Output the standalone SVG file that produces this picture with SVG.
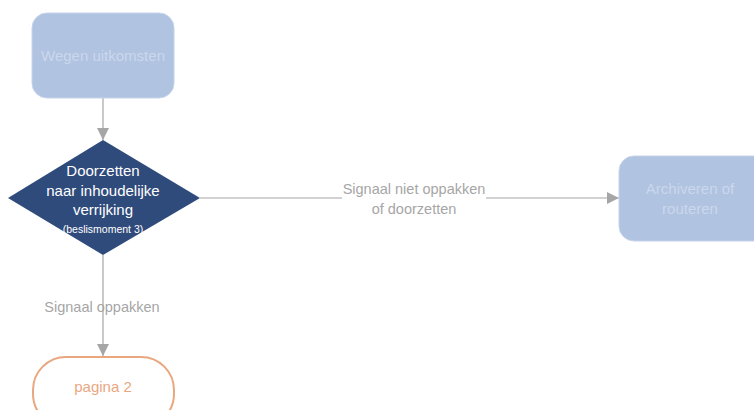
<svg xmlns="http://www.w3.org/2000/svg" width="754" height="410" viewBox="0 0 754 410">
<defs>
<style>
.proc{fill:#B0C3E1;stroke:#C6D3EA;stroke-width:1}
.ptxt{fill:#CBD7EC;font-family:"Liberation Sans",Arial,sans-serif;font-size:15px;text-anchor:middle}
.dtxt{fill:#FFFFFF;font-family:"Liberation Sans",Arial,sans-serif;font-size:15px;text-anchor:middle}
.ltxt{fill:#A6A6A6;font-family:"Liberation Sans",Arial,sans-serif;font-size:14.5px;text-anchor:middle}
.conn{stroke:#A6A6A6;stroke-width:1.2;fill:none}
</style>
<marker id="arr" viewBox="0 0 10 10" refX="10" refY="5" markerWidth="12" markerHeight="12" markerUnits="userSpaceOnUse" orient="auto">
<path d="M0,0 L10,5 L0,10 z" fill="#A6A6A6"/>
</marker>
</defs>
<rect width="754" height="410" fill="#FFFFFF"/>
<g id="connectors">
<line class="conn" x1="103" y1="98" x2="103" y2="140" marker-end="url(#arr)"/>
<line class="conn" x1="103" y1="255" x2="103" y2="356" marker-end="url(#arr)"/>
<line class="conn" x1="200" y1="198" x2="619" y2="198" marker-end="url(#arr)"/>
<rect x="342" y="188" width="144" height="20" fill="#FFFFFF"/>
<text class="ltxt" x="102" y="312">Signaal oppakken</text>
<text class="ltxt" x="414" y="194">Signaal niet oppakken</text>
<text class="ltxt" x="414" y="214">of doorzetten</text>
</g>
<g id="wegen">
<rect class="proc" x="32" y="13" width="142" height="85" rx="15"/>
<text class="ptxt" x="103" y="61">Wegen uitkomsten</text>
</g>
<g id="beslis">
<polygon points="103,140 200,198 103,255 8,198" fill="#2F4B7C"/>
<text class="dtxt" x="103" y="176">Doorzetten</text>
<text class="dtxt" x="103" y="196">naar inhoudelijke</text>
<text class="dtxt" x="103" y="215">verrijking</text>
<text class="dtxt" x="103" y="233" style="font-size:10.5px">(beslismoment 3)</text>
</g>
<g id="archiveren">
<rect class="proc" x="619" y="156" width="150" height="85" rx="15"/>
<text class="ptxt" x="690" y="194">Archiveren of</text>
<text class="ptxt" x="690" y="214">routeren</text>
</g>
<g id="pagina2">
<rect x="33" y="357" width="141" height="70" rx="33" fill="#FFFFFF" stroke="#E9A77F" stroke-width="2"/>
<text x="103" y="392" fill="#E9A77F" font-family="Liberation Sans, Arial, sans-serif" font-size="15" text-anchor="middle">pagina 2</text>
</g>
</svg>
